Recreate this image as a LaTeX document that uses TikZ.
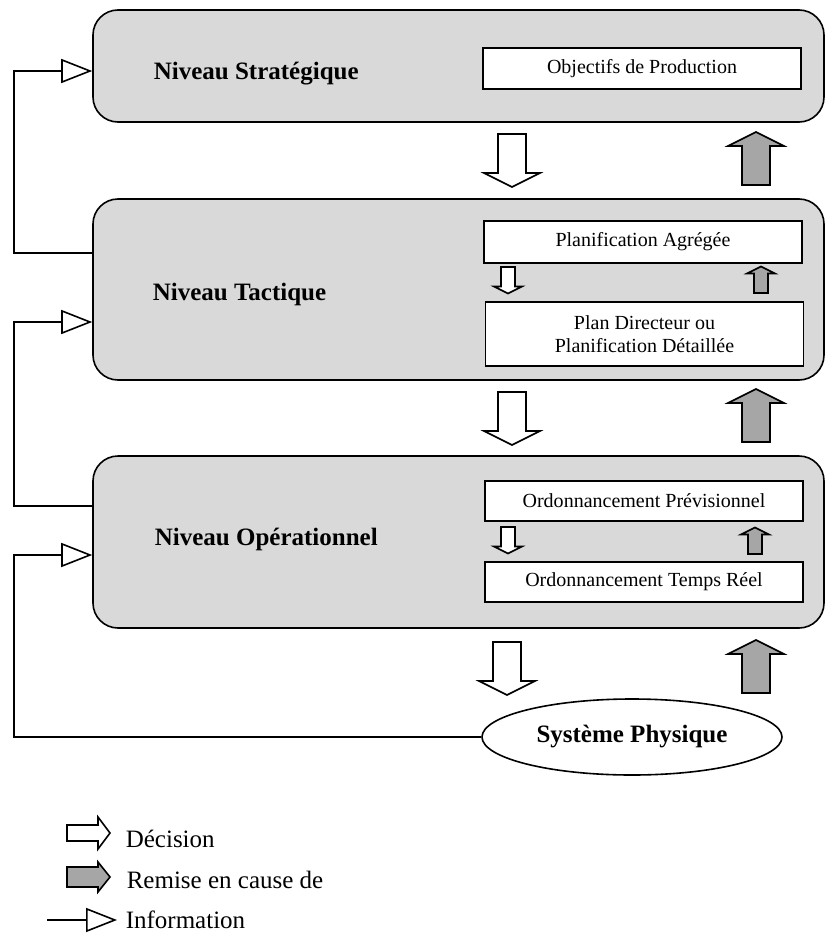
\documentclass[tikz,border=0pt]{standalone}
\usepackage{fontspec}
\setmainfont{Liberation Serif}
\usetikzlibrary{arrows.meta,shapes.geometric}
\definecolor{fondniveau}{HTML}{D9D9D9}
\definecolor{fondremise}{HTML}{A6A6A6}

\begin{document}
\begin{tikzpicture}[x=1pt, y=-1pt, line width=1.6pt,
  niveau/.style={draw, fill=fondniveau, rounded corners=25pt, minimum width=731pt},
  tache/.style={draw, fill=white, minimum width=318pt, align=center, font=\fontsize{20}{23}\selectfont},
  titre/.style={anchor=base west, inner sep=0pt, font=\fontsize{25}{28}\selectfont\bfseries},
  legende/.style={anchor=base west, inner sep=0pt, font=\fontsize{25}{28}\selectfont},
  decision/.style={draw, fill=white},
  remise/.style={draw, fill=fondremise},
  info/.style={-{Triangle[open, length=31pt, width=24pt]}},
  pics/fleche/.style={code={\draw[#1] (-14,0) -- (14,0) -- (14,39) -- (28,39) -- (0,53) -- (-28,39) -- (-14,39) -- cycle;}}
]
\useasboundingbox (0,0) rectangle (826,934);

% niveaux
\node[niveau, minimum height=112pt] (str) at (458.5,66) {};
\node[niveau, minimum height=181pt] (tac) at (458.5,289.5) {};
\node[niveau, minimum height=172pt] (ops) at (458.5,542) {};

\node[titre] (tstr) at (153,80) {Niveau Stratégique};
\node[titre] (ttac) at (152,300) {Niveau Tactique};
\node[titre] (tops) at (154,545) {Niveau Opérationnel};

\node[tache, minimum height=41pt] (obj) at (642,68.5) {Objectifs de Production};
\node[tache, minimum height=42pt] (pla) at (643,242) {Planification Agrégée};
\node[tache, minimum height=64pt] (pdir) at (644.5,334) {Plan Directeur ou\\Planification Détaillée};
\node[tache, minimum height=40pt] (prev) at (644,501) {Ordonnancement Prévisionnel};
\node[tache, minimum height=40pt] (tr) at (644,582) {Ordonnancement Temps Réel};

\node[draw, ellipse, fill=white, minimum width=300pt, minimum height=76pt,
  font=\fontsize{25}{28}\selectfont\bfseries] (sys) at (632,737) {Système Physique};

% decisions et remises en cause
\pic at (512,134) {fleche=decision};
\pic[yscale=-1] at (756,185) {fleche=remise};
\pic at (512,392) {fleche=decision};
\pic[yscale=-1] at (756,442) {fleche=remise};
\pic at (507,642) {fleche=decision};
\pic[yscale=-1] at (756,693) {fleche=remise};

\pic[scale=0.5] at (508,267) {fleche=decision};
\pic[xscale=0.5, yscale=-0.5] at (761,293) {fleche=remise};
\pic[scale=0.5] at (508,527) {fleche=decision};
\pic[xscale=0.5, yscale=-0.5] at (755,554) {fleche=remise};

% information
\draw[info] ([yshift=36.5pt]tac.west) -- ++(-78,0) |- ([yshift=-5pt]str.west);
\draw[info] ([yshift=36pt]ops.west) -- ++(-78,0) |- ([yshift=-32.5pt]tac.west);
\draw[info] (sys.west) -- ++(-467,0) |- ([yshift=-13pt]ops.west);

% legende
\draw[decision] (67,825) -- (98,825) -- (98,817) -- (110,833) -- (98,849) -- (98,841) -- (67,841) -- cycle;
\node[legende] (ldec) at (125,847) {Décision};
\draw[remise] (67,867) -- (98,867) -- (98,862) -- (110,877) -- (98,892) -- (98,887) -- (67,887) -- cycle;
\node[legende] (lrem) at (126,888) {Remise en cause de};
\coordinate (linf) at (47,920);
\draw[info] (linf) -- ++(70,0);
\node[legende] (linfo) at (125,928) {Information};

\end{tikzpicture}
\end{document}
